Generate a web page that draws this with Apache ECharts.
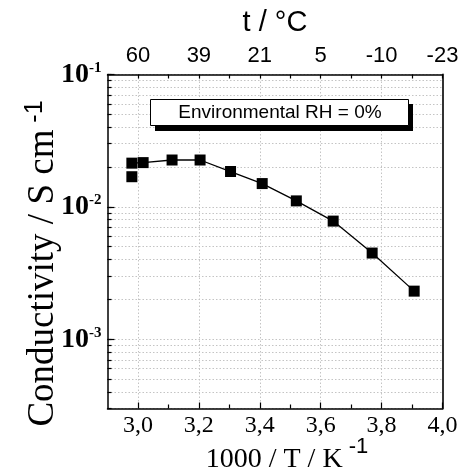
<!DOCTYPE html>
<html>
<head>
<meta charset="utf-8">
<script src="https://cdn.jsdelivr.net/npm/echarts@6/dist/echarts.min.js"></script>
<style>html,body{margin:0;padding:0;background:#fff;}#c{width:460px;height:473px;}</style>
</head>
<body>
<div id="c"></div>
<script>
// ---- data ----
const invT = [3.017, 3.112, 3.204, 3.304, 3.408, 3.520, 3.641, 3.769, 3.907];
const sigma = [0.0216, 0.0226, 0.0226, 0.0185, 0.0150, 0.0111, 0.00781, 0.00448, 0.00231];
const invTFirst = [2.980, 2.980];
const sigmaFirst = [0.0169, 0.0214];
const xMajorTicks = [3.0, 3.2, 3.4, 3.6, 3.8, 4.0];
const xMinorTicks = [3.1, 3.3, 3.5, 3.7, 3.9];
const xAllTicks = [3.0, 3.1, 3.2, 3.3, 3.4, 3.5, 3.6, 3.7, 3.8, 3.9, 4.0];
const topTickLabels = ['60', '39', '21', '5', '-10', '-23'];
const yMajorTicks = [0.001, 0.01, 0.1];
const yMinorTicks = [0.0003, 0.0004, 0.0005, 0.0006, 0.0007, 0.0008, 0.0009,
  0.002, 0.003, 0.004, 0.005, 0.006, 0.007, 0.008, 0.009,
  0.02, 0.03, 0.04, 0.05, 0.06, 0.07, 0.08, 0.09];
const legendText = 'Environmental RH = 0%';

const chart = echarts.init(document.getElementById('c'), null, {renderer: 'canvas'});
const serif = 'Liberation Serif';
const sans = 'Liberation Sans';
const gridColor = '#c4c4c4';

const mainData = [[invTFirst[1], sigmaFirst[1]]].concat(invT.map((x, i) => [x, sigma[i]]));
const extraData = [[invTFirst[0], sigmaFirst[0]]];
const yAll = yMinorTicks.concat(yMajorTicks).sort((a, b) => a - b);

const option = {
  backgroundColor: '#fff',
  animation: false,
  grid: {left: 107.5, right: 17.5, top: 74.5, bottom: 64.5, containLabel: false, outerBoundsMode: 'none'},
  xAxis: [
    {
      type: 'value', position: 'bottom', min: 2.9, max: 4.0,
      axisLine: {show: true, onZero: false, lineStyle: {color: '#000', width: 1.5}},
      axisTick: {show: true, inside: true, length: 6, customValues: xMajorTicks, lineStyle: {color: '#000', width: 1.2}},
      axisLabel: {show: true, customValues: xMajorTicks, margin: 5, color: '#000', fontFamily: serif, fontSize: 24,
        formatter: v => v.toFixed(1).replace('.', ',')},
      splitLine: {show: true, lineStyle: {color: gridColor, type: [1.5, 2], width: 1}},
      name: '{a|1000 / T / K}{s| -1}', nameLocation: 'middle', nameGap: 27, nameMoveOverlap: false,
      nameTextStyle: {padding: [0, 0, 0, 24], rich: {
        a: {fontFamily: serif, fontSize: 28, color: '#000', verticalAlign: 'bottom'},
        s: {fontFamily: sans, fontSize: 22, color: '#000', verticalAlign: 'top', padding: [0, 0, 16, 0]}
      }}
    },
    {
      type: 'value', position: 'bottom', min: 2.9, max: 4.0,
      axisLine: {show: false, onZero: false},
      axisTick: {show: true, inside: true, length: 4, customValues: xMinorTicks, lineStyle: {color: '#000', width: 1.2}},
      axisLabel: {show: false}, splitLine: {show: false}
    },
    {
      type: 'value', position: 'top', min: 2.9, max: 4.0,
      axisLine: {show: true, onZero: false, lineStyle: {color: '#000', width: 1.5}},
      axisTick: {show: true, inside: true, length: 4, customValues: xAllTicks, lineStyle: {color: '#000', width: 1.2}},
      axisLabel: {show: true, customValues: xMajorTicks, margin: 8, color: '#000', fontFamily: sans, fontSize: 22,
        formatter: v => {
          const i = xMajorTicks.findIndex(t => Math.abs(t - v) < 1e-6);
          return i >= 0 ? topTickLabels[i] : '';
        }},
      splitLine: {show: false},
      name: 't / °C', nameLocation: 'middle', nameGap: 37, nameMoveOverlap: false,
      nameTextStyle: {fontFamily: sans, fontSize: 29, color: '#000'}
    }
  ],
  yAxis: [
    {
      type: 'log', logBase: 10, position: 'left', min: 0.0003, max: 0.1,
      axisLine: {show: true, onZero: false, lineStyle: {color: '#000', width: 1.5}},
      axisTick: {show: true, inside: true, length: 4, customValues: yAll, lineStyle: {color: '#000', width: 1.2}},
      axisLabel: {show: true, customValues: yMajorTicks, margin: 6, showMinLabel: true, showMaxLabel: true,
        formatter: v => '{b|10}{s|' + Math.round(Math.log10(v)) + '}',
        rich: {
          b: {fontFamily: serif, fontWeight: 'bold', fontSize: 28, color: '#000'},
          s: {fontFamily: serif, fontWeight: 'bold', fontSize: 15, color: '#000', verticalAlign: 'top'}
        }},
      splitLine: {show: true, lineStyle: {color: gridColor, type: [1.5, 2], width: 1}},
      name: '{a|Conductivity / S cm}{s| -1}', nameLocation: 'middle', nameGap: 46, nameMoveOverlap: false,
      nameTextStyle: {padding: [0, 44, 0, 0], rich: {
        a: {fontFamily: serif, fontSize: 37, color: '#000', verticalAlign: 'bottom'},
        s: {fontFamily: sans, fontSize: 25, color: '#000', verticalAlign: 'top', padding: [0, 0, 14, 0]}
      }}
    },
    {
      type: 'log', logBase: 10, position: 'left', min: 0.0003, max: 0.1,
      axisLine: {show: false, onZero: false},
      axisTick: {show: true, inside: true, length: 7, customValues: yMajorTicks, lineStyle: {color: '#000', width: 1.2}},
      axisLabel: {show: false}, splitLine: {show: false}
    },
    {
      type: 'log', logBase: 10, position: 'right', min: 0.0003, max: 0.1,
      axisLine: {show: true, onZero: false, lineStyle: {color: '#333', width: 2}},
      axisTick: {show: false}, axisLabel: {show: false}, splitLine: {show: false}
    }
  ],
  graphic: [
    {type: 'rect', z: 100, shape: {x: 155, y: 104, width: 258, height: 27}, style: {fill: '#000'}},
    {type: 'rect', z: 101, shape: {x: 150.5, y: 99.5, width: 258, height: 26}, style: {fill: '#fff', stroke: '#000', lineWidth: 1}},
    {type: 'text', z: 102, x: 280, y: 113, style: {text: legendText, fontFamily: sans, fontSize: 19, fill: '#000', align: 'center', verticalAlign: 'middle'}}
  ],
  series: [
    {
      type: 'line', xAxisIndex: 0, yAxisIndex: 0, data: mainData,
      symbol: 'rect', symbolSize: 11, showAllSymbol: true,
      itemStyle: {color: '#000', opacity: 1}, lineStyle: {color: '#000', width: 1.3}, z: 5
    },
    {
      type: 'scatter', xAxisIndex: 0, yAxisIndex: 0, data: extraData,
      symbol: 'rect', symbolSize: 11, itemStyle: {color: '#000', opacity: 1}, z: 5
    }
  ]
};
chart.setOption(option);
</script>
</body>
</html>
